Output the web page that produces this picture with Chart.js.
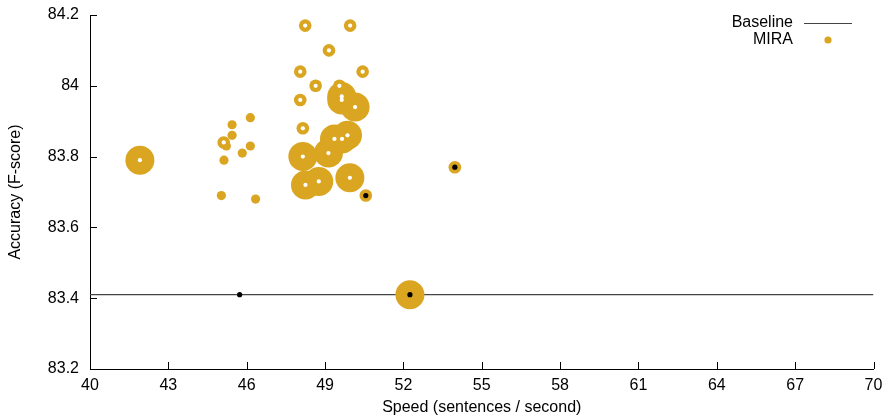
<!DOCTYPE html>
<html>
<head>
<meta charset="utf-8">
<script src="https://cdn.jsdelivr.net/npm/chart.js@4/dist/chart.umd.min.js"></script>
<style>
  html, body { margin: 0; padding: 0; background: #fff; }
  #wrap { width: 888px; height: 417px; }
</style>
</head>
<body>
<div id="wrap"><canvas id="c"></canvas></div>
<script>
// MIRA runs: speed (sentences/s), F-score, group (size class) and centre mark
const speed  = [41.91, 48.24, 49.96, 49.15, 48.05, 50.44, 48.64, 48.05, 48.15, 45.12, 49.55,
                49.64, 49.64, 50.15, 49.36, 49.65, 49.86, 49.13, 48.15, 48.25, 48.76, 49.95,
                50.56, 46.14, 45.44, 45.44, 46.14, 45.83, 45.13, 45.22, 45.03, 46.34, 53.97,
                52.25, 45.73];
const fscore = [83.79, 84.17, 84.17, 84.10, 84.04, 84.04, 84.00, 83.96, 83.88, 83.84, 84.00,
                83.97, 83.96, 83.94, 83.85, 83.85, 83.86, 83.81, 83.80, 83.72, 83.73, 83.74,
                83.69, 83.91, 83.89, 83.86, 83.83, 83.81, 83.79, 83.83, 83.69, 83.68, 83.77,
                83.41, 83.41];
const group  = ['big', 'ring', 'ring', 'ring', 'ring', 'ring', 'ring', 'ring', 'ring', 'ring', 'ring',
                'big', 'big', 'big', 'big', 'big', 'big', 'big', 'big', 'big', 'big', 'big',
                'ring', 'dot', 'dot', 'dot', 'dot', 'dot', 'dot', 'dot', 'dot', 'dot', 'ring',
                'big', 'bare'];
const centre = ['w', 'w', 'w', 'w', 'w', 'w', 'w', 'w', 'w', 'w', 'w',
                'w', 'w', 'w', 'w', 'w', 'w', 'w', 'w', 'w', 'w', 'w',
                'k', '', '', '', '', '', '', '', '', '', 'k',
                'k', 'k'];

const baselineY = 83.41;
const xTicks = [40, 43, 46, 49, 52, 55, 58, 61, 64, 67, 70];
const yTicks = [83.2, 83.4, 83.6, 83.8, 84, 84.2];

const GOLD = '#daa520';
const radius = { big: 14.5, ring: 6.3, dot: 4.6, bare: 0 };
const centreR = { w: 2.1, k: 2.6, '': 0 };
const font = 'Liberation Sans, Arial, sans-serif';

const pts = speed.map((x, i) => ({ x, y: fscore[i] }));

// ticks pointing into the plot + hand drawn legend
const extras = {
  id: 'extras',
  afterDraw(chart) {
    const { ctx, scales: { x, y } } = chart;
    ctx.save();
    ctx.strokeStyle = '#000';
    ctx.lineWidth = 1;
    ctx.beginPath();
    xTicks.forEach(v => {
      const px = Math.round(x.getPixelForValue(v)) + 0.5;
      ctx.moveTo(px, y.bottom); ctx.lineTo(px, y.bottom - 7);
    });
    yTicks.forEach(v => {
      const py = Math.round(y.getPixelForValue(v)) + 0.5;
      ctx.moveTo(x.left, py); ctx.lineTo(x.left + 7, py);
    });
    ctx.stroke();

    ctx.font = '16px ' + font;
    ctx.fillStyle = '#000';
    ctx.textAlign = 'right';
    ctx.textBaseline = 'middle';
    ctx.fillText('Baseline', 793, 23);
    ctx.fillText('MIRA', 793, 40);
    ctx.strokeStyle = '#444';
    ctx.beginPath(); ctx.moveTo(804, 23.5); ctx.lineTo(852, 23.5); ctx.stroke();
    ctx.fillStyle = GOLD;
    ctx.beginPath(); ctx.arc(828, 40, 3.6, 0, Math.PI * 2); ctx.fill();
    ctx.restore();
  }
};

new Chart(document.getElementById('c'), {
  type: 'bubble',
  data: {
    datasets: [
      { type: 'line', label: 'Baseline', data: [{ x: 40, y: baselineY }, { x: 70, y: baselineY }],
        borderColor: '#444', borderWidth: 1.2, pointRadius: 0, order: 3 },
      { label: 'MIRA', data: pts, backgroundColor: GOLD, borderWidth: 0,
        radius: ctx => radius[group[ctx.dataIndex]], hoverRadius: 0, order: 2 },
      { type: 'scatter', label: 'centre', data: pts, borderWidth: 0,
        pointBackgroundColor: centre.map(c => c === 'k' ? '#000' : '#fff'),
        pointRadius: centre.map(c => centreR[c]), order: 1 }
    ]
  },
  plugins: [extras],
  options: {
    responsive: true,
    maintainAspectRatio: false,
    animation: false,
    layout: { padding: { top: 15, right: 13, left: 0, bottom: 0 } },
    plugins: { legend: { display: false }, tooltip: { enabled: false } },
    scales: {
      x: {
        type: 'linear', min: 40, max: 70,
        afterBuildTicks: s => { s.ticks = xTicks.map(v => ({ value: v })); },
        afterFit: s => { s.height = 48; s.paddingLeft = 0; s.paddingRight = 0; },
        grid: { drawOnChartArea: false, drawTicks: false },
        border: { color: '#000', width: 1 },
        ticks: { color: '#000', padding: 7, font: { family: font, size: 16 }, maxRotation: 0 },
        title: { display: true, text: 'Speed (sentences / second)', color: '#000',
                 font: { family: font, size: 16 }, padding: { top: 4, bottom: 0 } }
      },
      y: {
        type: 'linear', min: 83.2, max: 84.2,
        afterBuildTicks: s => { s.ticks = yTicks.map(v => ({ value: v })); },
        afterFit: s => { s.width = 90; s.paddingTop = 0; s.paddingBottom = 0; },
        grid: { drawOnChartArea: false, drawTicks: false },
        border: { color: '#000', width: 1 },
        ticks: { color: '#000', padding: 11, font: { family: font, size: 16 },
                 callback: v => String(Math.round(v * 10) / 10) },
        title: { display: true, text: 'Accuracy (F-score)', color: '#000',
                 font: { family: font, size: 16 }, padding: { top: 6, bottom: 0 } }
      }
    }
  }
});
</script>
</body>
</html>
